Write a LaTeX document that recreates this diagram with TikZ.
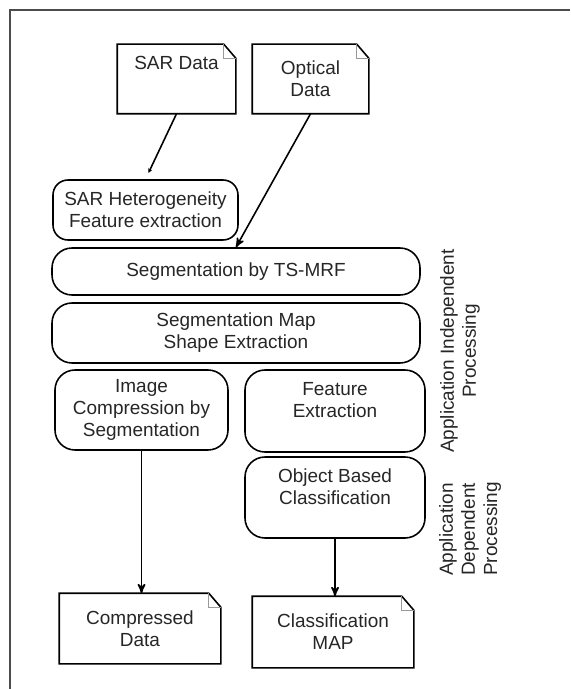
\documentclass[tikz,border=0pt]{standalone}
\usepackage{fontspec}
\setmainfont{Liberation Sans}
\usetikzlibrary{positioning}
\usetikzlibrary{arrows}
\usetikzlibrary{arrows.meta}
\usetikzlibrary{calc}
\tikzset{>=stealth'}
\tikzset{proc/.style={draw, rounded corners=0.4cm, align=center, inner sep=0pt}}
\tikzset{doc/.style={align=center, inner sep=0pt}}
\tikzset{side/.style={rotate=90, inner sep=0pt}}

\begin{document}
\begin{tikzpicture}[font=\fontsize{10.8}{12.6}\selectfont, line width=0.9pt, text=black!85]
        \useasboundingbox (0,0) rectangle (11.4,-13.78);
        \draw[black!70] (0.2,-13.78) |- (11.4,-0.2);

        % input and output data
        \node[doc, minimum width=2.34cm, minimum height=1.36cm] (sar) at (3.53,-1.58) {SAR Data\\[0.2cm] \mbox{}};
        \node[doc, minimum width=2.30cm, minimum height=1.36cm] (opt) at (6.21,-1.58) {Optical\\Data};
        \node[doc, minimum width=3.20cm, minimum height=1.38cm] (comp) at (2.80,-12.57) {Compressed\\Data};
        \node[doc, minimum width=3.20cm, minimum height=1.40cm] (cmap) at (6.66,-12.64) {Classification\\MAP};

        % processing steps
        \node[proc, rounded corners=0.3cm, minimum width=3.70cm, minimum height=1.20cm] (het) at (2.91,-4.20) {SAR Heterogeneity\\Feature extraction};
        \node[proc, minimum width=7.36cm, minimum height=0.94cm] (ts) at (4.72,-5.43) {Segmentation by TS-MRF};
        \node[proc, minimum width=7.36cm, minimum height=1.20cm] (segmap) at (4.72,-6.66) {Segmentation Map\\Shape Extraction};
        \node[proc, minimum width=3.46cm, minimum height=1.60cm] (imgc) at (2.83,-8.20) {Image\\Compression by\\Segmentation};
        \node[proc, minimum width=3.60cm, minimum height=1.64cm] (feat) at (6.70,-8.22) {Feature\\Extraction\\ \mbox{}};
        \node[proc, minimum width=3.60cm, minimum height=1.62cm] (obj) at (6.70,-9.95) {Object Based\\Classification\\ \mbox{}};

        \node[side, align=center] (indep) at (9.20,-7.02) {Application Independent\\Processing};
        \node[side, align=left] (dep) at (9.40,-10.58) {Application\\Dependent\\Processing};

        \foreach \n in {sar,opt,comp,cmap} {
            \draw (\n.south west) -- (\n.north west) -- ([xshift=-0.24cm]\n.north east)
             -- ([yshift=-0.28cm]\n.north east) -- (\n.south east) -- cycle;
            \draw[black!40, line width=0.6pt] ([xshift=-0.24cm]\n.north east) |- ([yshift=-0.28cm]\n.north east);
        }

        \draw[-{Stealth[length=2.5pt, width=2.5pt]}, shorten >=0.14cm] (sar.south) -- (het.north);
        \draw[->] (opt.south) -- (ts.north);
        \draw[->] (imgc.south) -- (imgc.south |- comp.north);
        \draw[->] (obj.south) -- (obj.south |- cmap.north);
    \end{tikzpicture}
\end{document}
